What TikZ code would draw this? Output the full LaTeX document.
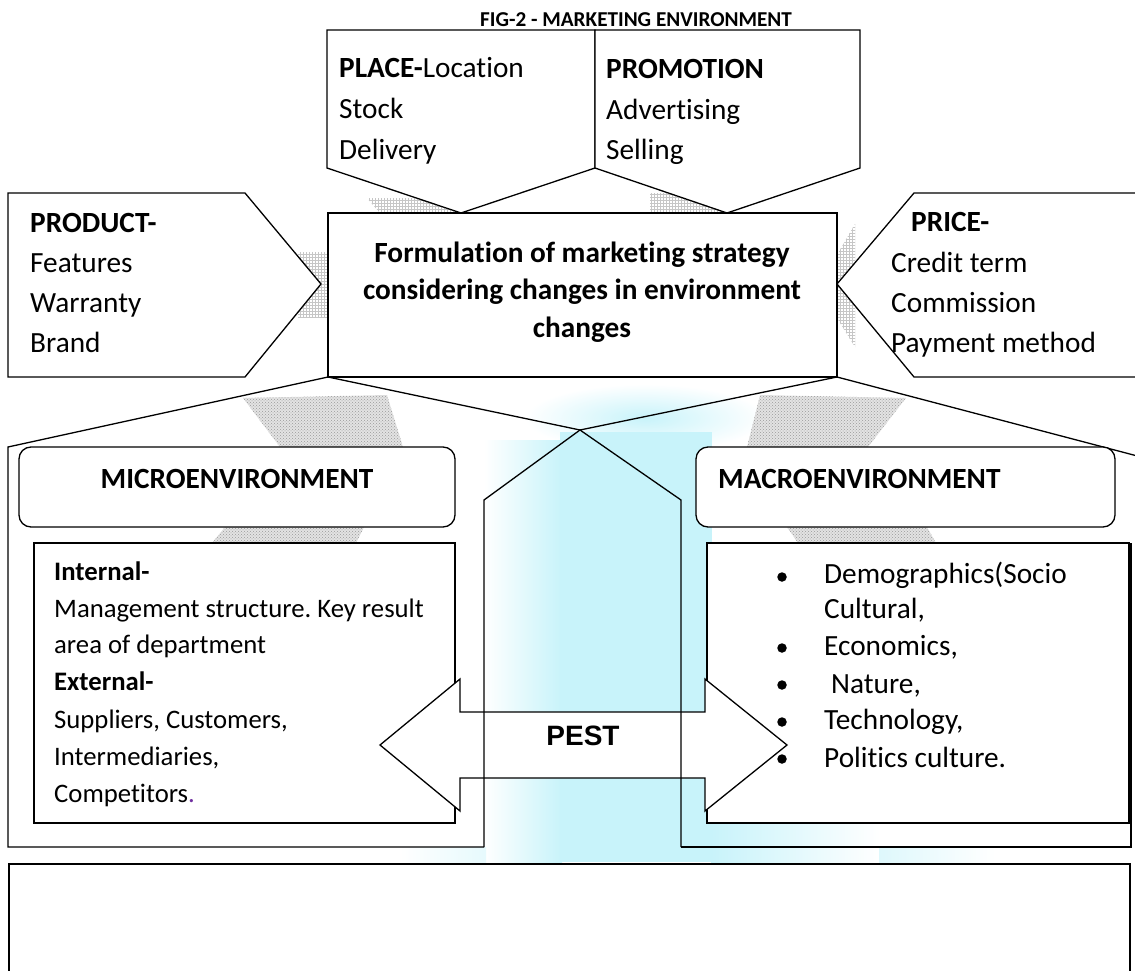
\documentclass[tikz,border=0pt]{standalone}
\usepackage{fontspec}
\setmainfont{Carlito}[Ligatures=NoCommon]
\newfontfamily\pestfont{Liberation Sans}
\usetikzlibrary{patterns}
\definecolor{glowcyan}{RGB}{200,243,250}
\definecolor{dotpurple}{RGB}{112,48,160}
\newcommand\bodysize{\fontsize{29.3}{34}\selectfont}
\newcommand\listsize{\fontsize{26.7}{32}\selectfont}
\newcommand\titlesize{\fontsize{21.2}{25}\selectfont}
\frenchspacing

\begin{document}
\begin{tikzpicture}[x=1pt,y=-1pt,
  outline/.style={draw=black, line width=1.3pt, line join=miter},
  boxfill/.style={outline, fill=white},
  lightshadow/.style={fill=gray!12, pattern=grid, pattern color=gray!45},
  dotshadow/.style={fill=gray!22, postaction={pattern=crosshatch dots, pattern color=gray!80}},
  txt/.style={inner sep=0pt, anchor=base west, font=\bodysize},
  btxt/.style={txt, font=\bodysize\bfseries},
  ctxt/.style={btxt, anchor=base},
  stxt/.style={txt, font=\listsize},
  sbtxt/.style={txt, font=\listsize\bfseries},
  bulletdot/.style={circle, fill=black, inner sep=0pt, minimum size=9.5pt}
]
\useasboundingbox (0,0) rectangle (1135,971);
\clip (0,0) rectangle (1135,971);

% soft cyan glow behind the PEST column
\shade[inner color=glowcyan, outer color=white] (645,418) ellipse [x radius=120, y radius=34];
\shade[left color=white, right color=glowcyan] (484,440) rectangle (562,862);
\fill[glowcyan] (560,432) rectangle (712,862);
\shade[left color=glowcyan, right color=white] (711,823) rectangle (880,862);
\shade[left color=white, right color=glowcyan!45] (400,847) rectangle (486,862);
\shade[left color=glowcyan!60, right color=white] (879,847) rectangle (995,862);

% hatched shadows of the block arrows
\fill[lightshadow] (367,198) -- (418,198) -- (461,213) -- (380,213) -- cycle;
\fill[lightshadow] (650,193) -- (670,193) -- (727,213) -- (650,213) -- cycle;
\fill[lightshadow] (298,252) -- (328,252) -- (328,317) -- (298,317) -- cycle;
\fill[lightshadow] (837,255) -- (855,224) -- (855,347) -- (837,318) -- cycle;
\fill[dotshadow] (243,398) -- (387,395) -- (403,447) -- (280,447) -- cycle;
\fill[dotshadow] (225,527) -- (364,527) -- (356,543) -- (212,543) -- cycle;
\fill[dotshadow] (760,395) -- (906,398) -- (868,447) -- (747,447) -- cycle;
\fill[dotshadow] (787,527) -- (927,527) -- (936,543) -- (798,543) -- cycle;

% title
\node[inner sep=0pt, anchor=base, font=\titlesize\bfseries] (title) at (636,27)
  {FIG-2 - MARKETING ENVIRONMENT};

% marketing mix arrows around the strategy box
\draw[boxfill] (327,30) -- (595,30) -- (595,168) -- (461,213) -- (327,168) -- cycle;
\draw[boxfill] (595,30) -- (860,30) -- (860,168) -- (727,213) -- (595,168) -- cycle;
\draw[boxfill] (8,193) -- (245,193) -- (321,284) -- (245,377) -- (8,377) -- cycle;
\draw[boxfill] (1145,193) -- (914,193) -- (837,284) -- (914,377) -- (1145,377);
\draw[boxfill] (328,213) rectangle (837,377);

\node[txt] (place1) at (339,78) {\textbf{PLACE-}Location};
\node[txt] (place2) at (339,119) {Stock};
\node[txt] (place3) at (339,160) {Delivery};

\node[btxt] (promo1) at (606,79) {PROMOTION};
\node[txt] (promo2) at (606,120) {Advertising};
\node[txt] (promo3) at (606,160) {Selling};

\node[btxt] (prod1) at (30,232) {PRODUCT-};
\node[txt] (prod2) at (30,272) {Features};
\node[txt] (prod3) at (30,312) {Warranty};
\node[txt] (prod4) at (30,352) {Brand};

\node[btxt] (price1) at (911,231) {PRICE-};
\node[txt] (price2) at (891,272) {Credit term};
\node[txt] (price3) at (891,312) {Commission};
\node[txt] (price4) at (891,352) {Payment method};

\node[ctxt] (core1) at (582,262) {Formulation of marketing strategy};
\node[ctxt] (core2) at (582,299.5) {considering changes in environment};
\node[ctxt] (core3) at (582,337) {changes};

% outer environment shapes
\draw[outline] (580,430) -- (328,377) -- (8,447) -- (8,847) -- (484,847);
\draw[outline] (580,430) -- (837,377) -- (1145,458);
\draw[outline] (681,847) -- (1131,847) -- (1131,543);

% headers
\draw[boxfill, rounded corners=12pt] (19,447) rectangle (455,527);
\draw[boxfill, rounded corners=12pt] (696,447) rectangle (1115,527);
\node[btxt, anchor=base] (microhead) at (237,488) {MICROENVIRONMENT};
\node[btxt] (macrohead) at (718,488) {MACROENVIRONMENT};

% content boxes
\draw[boxfill] (34,543) rectangle (455,823);
\draw[boxfill] (707,543) rectangle (1129,823);

\node[sbtxt] (int1) at (54,580) {Internal-};
\node[stxt] (int2) at (54,617) {Management structure. Key result};
\node[stxt] (int3) at (54,653) {area of department};
\node[sbtxt] (ext1) at (54,690) {External-};
\node[stxt] (ext2) at (54,728) {Suppliers, Customers,};
\node[stxt] (ext3) at (54,765) {Intermediaries,};
\node[stxt] (ext4) at (54,802) {Competitors\textcolor{dotpurple}{.}};

\node[bulletdot] (dot1) at (782,577) {};
\node[bulletdot] (dot2) at (782,648) {};
\node[bulletdot] (dot3) at (782,685) {};
\node[bulletdot] (dot4) at (782,722) {};
\node[bulletdot] (dot5) at (782,759) {};
\node[txt] (mac1) at (824,583) {Demographics(Socio};
\node[txt] (mac2) at (824,618) {Cultural,};
\node[txt] (mac3) at (824,655) {Economics,};
\node[txt] (mac4) at (831,693) {Nature,};
\node[txt] (mac5) at (824,729) {Technology,};
\node[txt] (mac6) at (824,767) {Politics culture.};

% PEST double arrow
\draw[boxfill] (380,745) -- (460,679) -- (460,712) -- (705,712) -- (705,679)
  -- (787,745) -- (705,811) -- (705,778) -- (460,778) -- (460,811) -- cycle;
\node[inner sep=0pt, anchor=base, font=\pestfont\fontsize{28}{32}\selectfont\bfseries]
  (pest) at (583,745) {PEST};

% upward column between the two environments
\draw[outline] (484,847) -- (484,500) -- (580,430) -- (681,500) -- (681,847);

% lower empty box
\draw[outline] (9,864) rectangle (1130,995);
\end{tikzpicture}
\end{document}
